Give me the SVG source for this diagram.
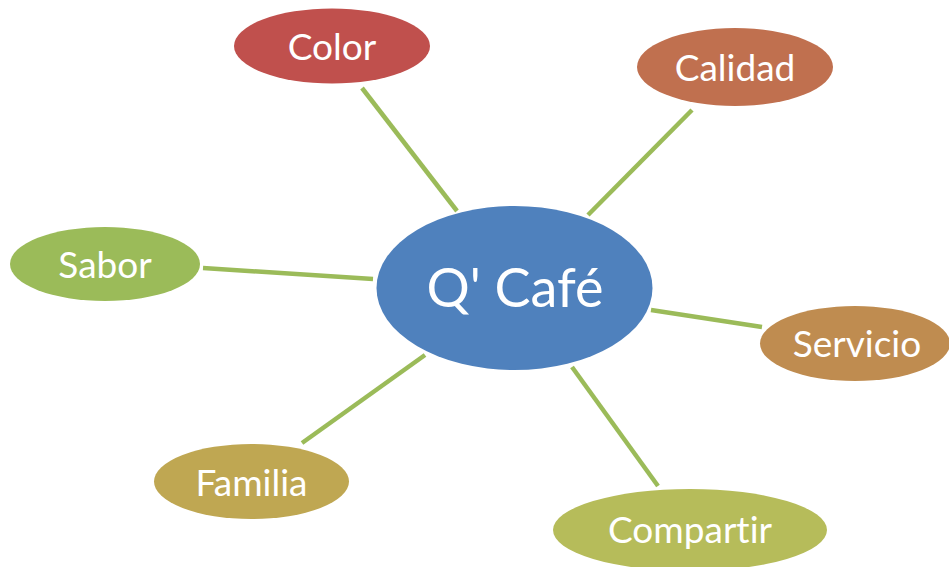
<svg xmlns="http://www.w3.org/2000/svg" width="949" height="567" viewBox="0 0 949 567">
<style>
.lbl{font-family:Lato,"Open Sans","Liberation Sans",sans-serif;fill:#fff;text-anchor:middle;dominant-baseline:central;font-variant-ligatures:none;font-feature-settings:"liga" 0}
.s{font-size:37px}
.c{font-size:54px}
.conn line{stroke:#9BBB59;stroke-width:4.5}
</style>
<rect width="949" height="567" fill="#fff"/>
<g id="connectors" class="conn">
<line x1="362" y1="88" x2="457" y2="211"/>
<line x1="692" y1="110" x2="588" y2="215"/>
<line x1="203" y1="268" x2="373" y2="279"/>
<line x1="651" y1="310" x2="762" y2="327"/>
<line x1="302" y1="443" x2="425" y2="355"/>
<line x1="572" y1="367" x2="658" y2="486"/>
</g>
<g id="center"><ellipse cx="514.5" cy="288" rx="138" ry="82" fill="#4F81BD"/><text class="lbl c" x="515" y="286">Q' Café</text></g>
<g id="color"><ellipse cx="332" cy="46" rx="98" ry="37.5" fill="#C0504D"/><text class="lbl s" x="332" y="45">Color</text></g>
<g id="calidad"><ellipse cx="735" cy="67" rx="98" ry="39" fill="#C0704F"/><text class="lbl s" x="735" y="66">Calidad</text></g>
<g id="sabor"><ellipse cx="105" cy="264" rx="95" ry="37" fill="#9BBB59"/><text class="lbl s" x="105" y="263">Sabor</text></g>
<g id="servicio"><ellipse cx="855" cy="343.5" rx="95" ry="37.5" fill="#BF8C50"/><text class="lbl s" x="857" y="342">Servicio</text></g>
<g id="familia"><ellipse cx="251.5" cy="481.5" rx="97.5" ry="37.5" fill="#BFA752"/><text class="lbl s" x="251.5" y="481">Familia</text></g>
<g id="compartir"><ellipse cx="690" cy="530" rx="137" ry="41" fill="#B6BC5A"/><text class="lbl s" x="690" y="528">Compartir</text></g>
</svg>
